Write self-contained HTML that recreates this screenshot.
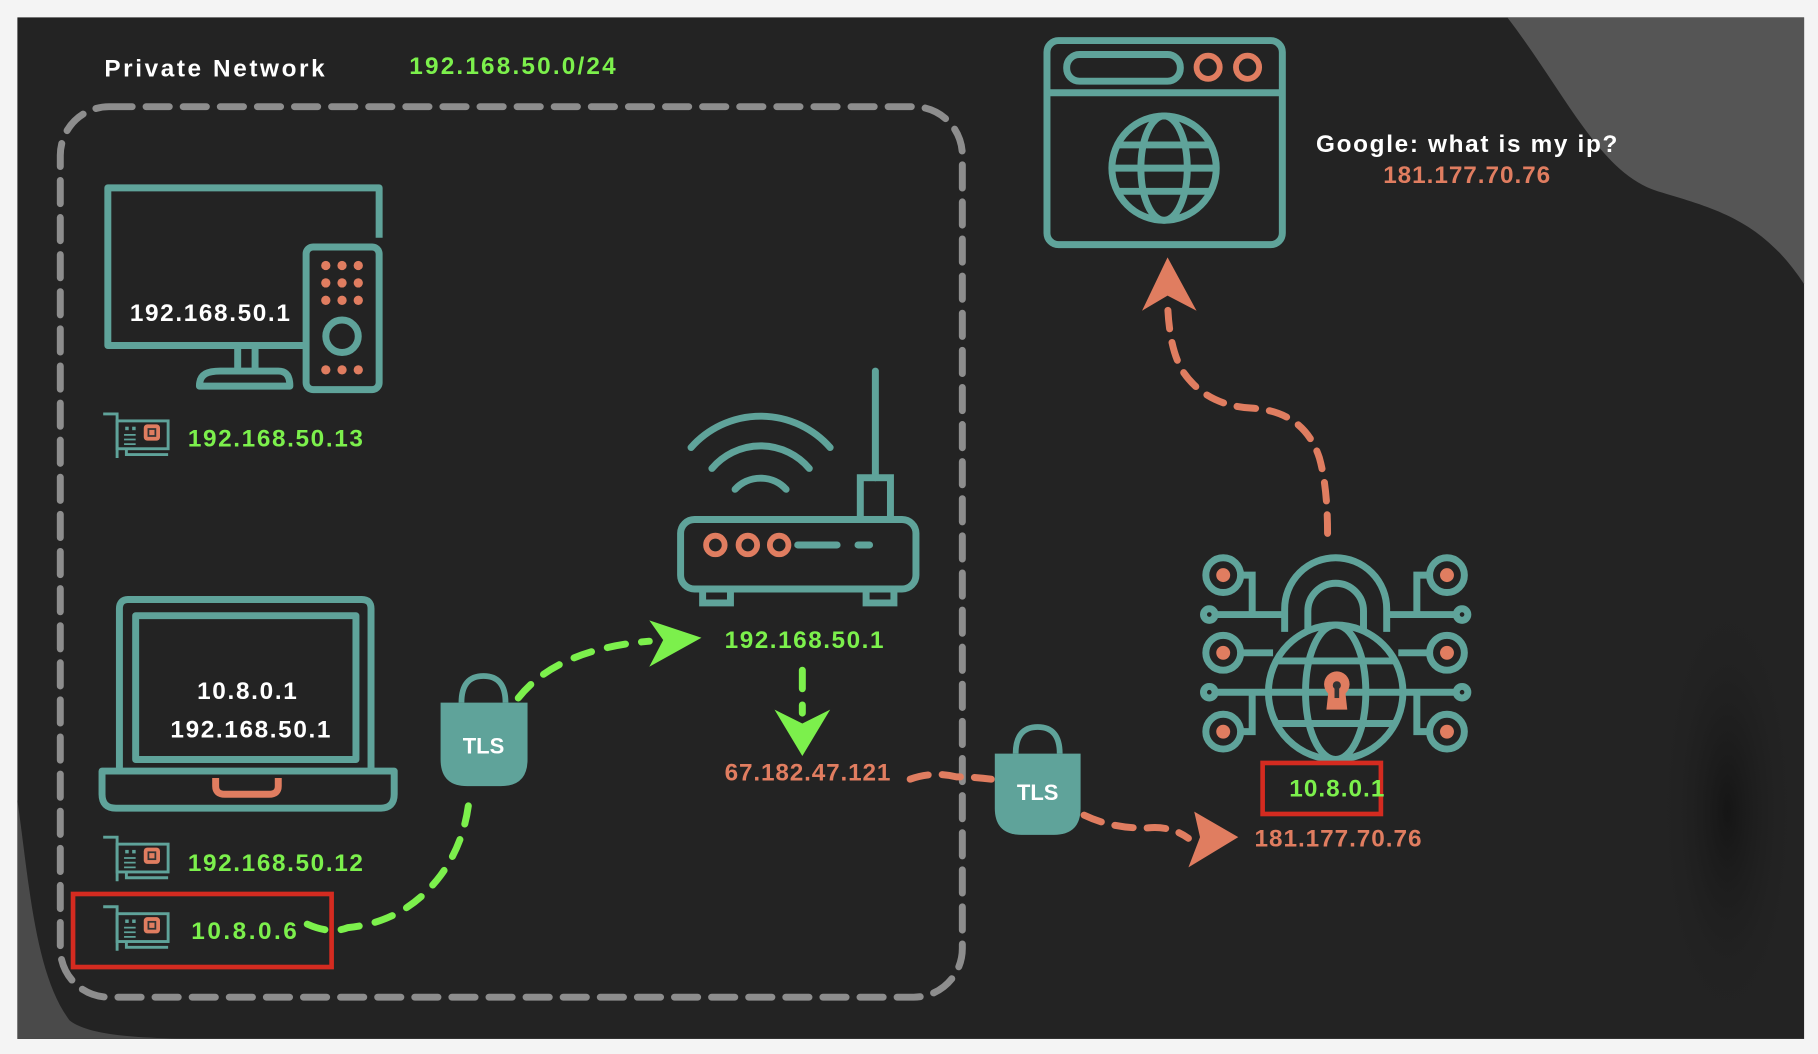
<!DOCTYPE html>
<html><head><meta charset="utf-8"><style>
html,body{margin:0;padding:0;background:#f4f4f4;width:1818px;height:1054px;overflow:hidden;}
svg{display:block;overflow:hidden}
text{font-family:"Liberation Sans",sans-serif;font-weight:bold;}
</style></head><body>
<svg width="1818" height="1054" viewBox="0 0 1568 909" preserveAspectRatio="none" xmlns="http://www.w3.org/2000/svg">
<defs>
<radialGradient id="sh" cx="0.5" cy="0.5" r="0.5"><stop offset="0" stop-color="#0c0c0c" stop-opacity="0.6"/><stop offset="1" stop-color="#232323" stop-opacity="0"/></radialGradient>
<g id="nic">
<path d="M6 2 L12 2 L12 40 M0 2 L6 2" fill="none" stroke="#5fa39a" stroke-width="2.5"/>
<rect x="12" y="8" width="44" height="24" fill="none" stroke="#5fa39a" stroke-width="2.5"/>
<path d="M20 32 L20 37 L56 37" fill="none" stroke="#5fa39a" stroke-width="2.5"/>
<rect x="19" y="13" width="3" height="3" fill="#5fa39a"/><rect x="25" y="13" width="3" height="3" fill="#5fa39a"/>
<path d="M18 20h10M18 24h10M18 28h10" stroke="#5fa39a" stroke-width="1.5"/>
<rect x="35" y="11" width="14" height="14" rx="3" fill="#e07d60"/><rect x="39" y="15" width="6" height="6" fill="none" stroke="#333" stroke-width="1.5"/>
</g>
</defs>
<rect x="0" y="0" width="1568" height="909" fill="#f4f4f4"/>
<rect x="15" y="15" width="1541" height="881" fill="#232323"/>
<path d="M1300 15 L1556 15 L1556 245 C1520 190 1480 180 1430 165 C1380 150 1350 80 1300 15 Z" fill="#555"/>
<path d="M15 690 C25 760 30 840 60 880 C80 896 140 896 200 896 L15 896 Z" fill="#4a4a4a"/>
<ellipse cx="1490" cy="700" rx="60" ry="190" fill="url(#sh)"/>
<text x="90" y="66" font-size="21" fill="#fff" textLength="190">Private Network</text>
<text x="353" y="64" font-size="21" fill="#7cf04c" textLength="178">192.168.50.0/24</text>
<rect x="52" y="92" width="778" height="768" rx="42" fill="none" stroke="#8d8d8d" stroke-width="6" stroke-dasharray="20 12" stroke-linecap="round"/>
<g fill="none" stroke="#5fa39a" stroke-width="6" stroke-linejoin="round">
<path d="M264 298 L93 298 L93 162 L327 162 L327 205"/>
<path d="M205 298 L205 320 M220 298 L220 320"/>
<path d="M172 333 C172 322 180 320 190 320 L240 320 C248 320 250 326 250 333 Z"/>
<rect x="264" y="213" width="63" height="123" rx="6"/>
<circle cx="295" cy="290" r="14"/>
</g>
<g fill="#e07d60">
<circle cx="281" cy="229" r="4"/><circle cx="295" cy="229" r="4"/><circle cx="309" cy="229" r="4"/>
<circle cx="281" cy="244" r="4"/><circle cx="295" cy="244" r="4"/><circle cx="309" cy="244" r="4"/>
<circle cx="281" cy="259" r="4"/><circle cx="295" cy="259" r="4"/><circle cx="309" cy="259" r="4"/>
<circle cx="281" cy="319" r="4"/><circle cx="295" cy="319" r="4"/><circle cx="309" cy="319" r="4"/>
</g>
<text x="112" y="277" font-size="21" fill="#fff" textLength="138">192.168.50.1</text>
<use href="#nic" x="89" y="355"/>
<text x="162" y="385" font-size="21" fill="#7cf04c" textLength="151">192.168.50.13</text>
<g fill="none" stroke="#5fa39a" stroke-width="6" stroke-linecap="round">
<path d="M755 320 L755 412"/>
<rect x="742" y="412" width="26" height="36"/>
<rect x="587" y="448" width="203" height="60" rx="12"/>
<path d="M606 508 L606 520 L630 520 L630 508 M747 508 L747 520 L771 520 L771 508"/>
<path d="M688 470 L722 470 M740 470 L750 470"/>
<path d="M596 386 A80 80 0 0 1 716 386"/>
<path d="M614 404 A55 55 0 0 1 698 404"/>
<path d="M634 422 A30 30 0 0 1 678 422"/>
</g>
<g fill="none" stroke="#e07d60" stroke-width="5"><circle cx="617" cy="470" r="8"/><circle cx="645" cy="470" r="8"/><circle cx="672" cy="470" r="8"/></g>
<g fill="none" stroke="#5fa39a" stroke-width="6" stroke-linejoin="round">
<path d="M103 665 L103 525 Q103 517 111 517 L312 517 Q320 517 320 525 L320 665"/>
<rect x="117" y="531" width="190" height="124"/>
<path d="M88 665 L340 665 L340 685 Q340 697 328 697 L100 697 Q88 697 88 685 Z"/>
</g>
<path d="M186 671 L186 678 Q186 685 194 685 L232 685 Q240 685 240 678 L240 671" fill="none" stroke="#e07d60" stroke-width="6"/>
<text x="170" y="603" font-size="21" fill="#fff" textLength="86">10.8.0.1</text>
<text x="147" y="636" font-size="21" fill="#fff" textLength="138">192.168.50.1</text>
<use href="#nic" x="89" y="720"/>
<text x="162" y="751" font-size="21" fill="#7cf04c" textLength="151">192.168.50.12</text>
<rect x="63" y="771" width="223" height="63" fill="none" stroke="#d42b20" stroke-width="4"/>
<use href="#nic" x="89" y="780"/>
<text x="165" y="810" font-size="21" fill="#7cf04c" textLength="91">10.8.0.6</text>
<g fill="none" stroke="#7cf04c" stroke-width="6" stroke-dasharray="16 14" stroke-linecap="round">
<path d="M265 797 Q285 806 300 800 Q350 795 380 755 Q402 725 405 685"/>
<path d="M447 602 Q480 560 560 553"/>
<path d="M692 578 L692 615"/>
</g>
<path d="M560 535 L605 550 L560 575 L572 552 Z" fill="#7cf04c"/>
<path d="M668 612 L692 652 L716 612 L692 624 Z" fill="#7cf04c"/>
<path d="M398 606 Q398 583 417 583 Q436 583 436 606" fill="none" stroke="#5fa39a" stroke-width="5"/>
<path d="M380 606 L455 606 L455 655 Q455 678 432 678 L403 678 Q380 678 380 655 Z" fill="#5fa39a"/>
<text x="417" y="650" font-size="19" fill="#fff" text-anchor="middle">TLS</text>
<text x="625" y="559" font-size="21" fill="#7cf04c" textLength="137">192.168.50.1</text>
<text x="625" y="673" font-size="21" fill="#e07d60" textLength="143">67.182.47.121</text>
<g fill="none" stroke="#e07d60" stroke-width="6" stroke-dasharray="16 12" stroke-linecap="round">
<path d="M785 672 Q805 665 825 670 Q840 670 855 672"/>
<path d="M935 703 Q960 715 990 714 Q1010 712 1025 723"/>
<path d="M1145 460 Q1145 420 1138 395 Q1125 355 1080 352 Q1040 350 1020 320 Q1008 300 1007 260"/>
</g>
<path d="M1030 700 L1068 722 L1025 748 L1035 722 Z" fill="#e07d60"/>
<path d="M985 268 L1007 222 L1032 268 L1007 255 Z" fill="#e07d60"/>
<path d="M876 650 Q876 627 895 627 Q914 627 914 650" fill="none" stroke="#5fa39a" stroke-width="5"/>
<path d="M858 650 L932 650 L932 697 Q932 720 909 720 L881 720 Q858 720 858 697 Z" fill="#5fa39a"/>
<text x="895" y="690" font-size="19" fill="#fff" text-anchor="middle">TLS</text>
<g fill="none" stroke="#5fa39a" stroke-width="6">
<path d="M1108 545 L1108 525 A44 44 0 0 1 1196 525 L1196 545"/>
<path d="M1128 545 L1128 527 A24 24 0 0 1 1176 527 L1176 545"/>
<ellipse cx="1152" cy="597" rx="58" ry="58"/>
<ellipse cx="1152" cy="597" rx="26" ry="58"/>
<path d="M1094 597 L1210 597 M1100 570 L1204 570 M1100 624 L1204 624"/>
<circle cx="1055" cy="496" r="15"/><circle cx="1055" cy="563" r="15"/><circle cx="1055" cy="631" r="15"/>
<circle cx="1248" cy="496" r="15"/><circle cx="1248" cy="563" r="15"/><circle cx="1248" cy="631" r="15"/>
<circle cx="1043" cy="530" r="5"/><circle cx="1043" cy="597" r="5"/>
<circle cx="1261" cy="530" r="5"/><circle cx="1261" cy="597" r="5"/>
<path d="M1070 496 L1080 496 L1080 530 L1108 530 M1048 530 L1080 530 M1070 563 L1098 563 M1070 631 L1080 631 L1080 597 L1095 597 M1048 597 L1080 597"/>
<path d="M1233 496 L1222 496 L1222 530 L1196 530 M1256 530 L1222 530 M1233 563 L1206 563 M1233 631 L1222 631 L1222 597 L1210 597 M1256 597 L1222 597"/>
</g>
<g fill="#e07d60"><circle cx="1055" cy="496" r="6"/><circle cx="1055" cy="563" r="6"/><circle cx="1055" cy="631" r="6"/><circle cx="1248" cy="496" r="6"/><circle cx="1248" cy="563" r="6"/><circle cx="1248" cy="631" r="6"/>
<circle cx="1153" cy="590" r="11"/><path d="M1146 594 L1160 594 L1162 612 L1144 612 Z"/></g>
<circle cx="1153" cy="591" r="3.5" fill="#333"/><rect x="1151" y="592" width="4" height="10" fill="#333"/>
<rect x="1089" y="658" width="102" height="44" fill="none" stroke="#d42b20" stroke-width="4"/>
<text x="1112" y="687" font-size="21" fill="#7cf04c" textLength="82">10.8.0.1</text>
<text x="1082" y="730" font-size="21" fill="#e07d60" textLength="144">181.177.70.76</text>
<g fill="none" stroke="#5fa39a" stroke-width="6">
<rect x="903" y="35" width="203" height="176" rx="10"/>
<path d="M903 80 L1106 80"/>
<rect x="920" y="47" width="98" height="23" rx="11"/>
<circle cx="1004" cy="145" r="45"/>
<ellipse cx="1004" cy="145" rx="20" ry="45"/>
<path d="M959 145 L1049 145 M965 125 L1043 125 M965 165 L1043 165"/>
</g>
<g fill="none" stroke="#e07d60" stroke-width="5"><circle cx="1042" cy="58" r="10"/><circle cx="1076" cy="58" r="10"/></g>
<text x="1135" y="131" font-size="21" fill="#fff" textLength="260">Google: what is my ip?</text>
<text x="1193" y="158" font-size="21" fill="#e07d60" textLength="144">181.177.70.76</text>
</svg>
</body></html>
